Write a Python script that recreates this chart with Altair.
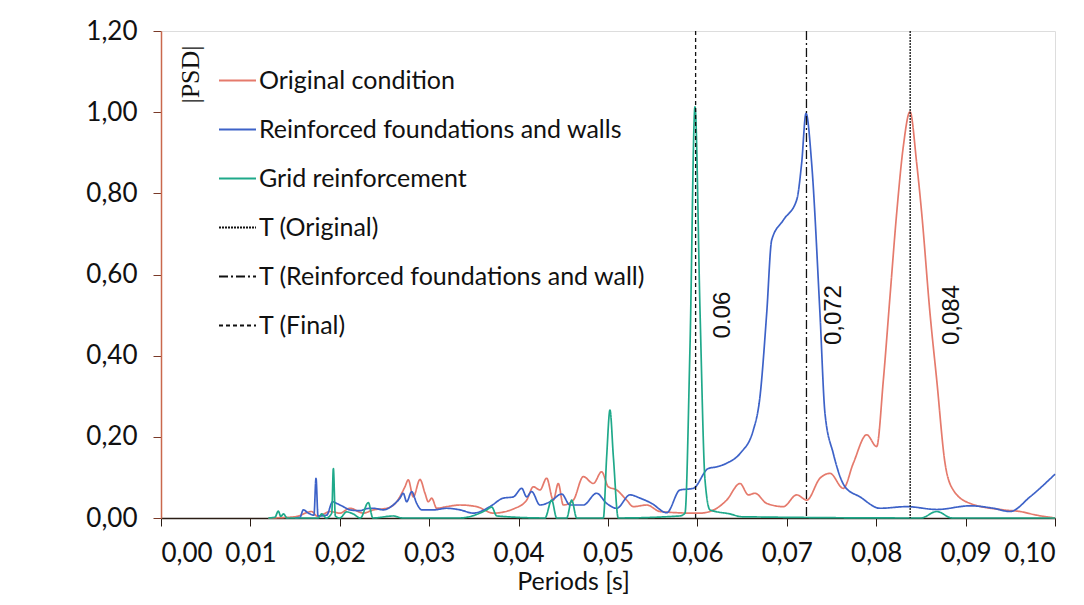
import altair as alt
import pandas as pd

# ---- data ----
orig_x = [0.0120, 0.0150, 0.01685, 0.0175, 0.0182, 0.0189, 0.0200, 0.02114, 0.02263, 0.02375,
          0.02524, 0.02636, 0.02729, 0.02766, 0.02822, 0.02897, 0.02953, 0.0299, 0.03028, 0.03084,
          0.03196, 0.03345, 0.03531, 0.03717, 0.0396, 0.0409, 0.04165, 0.04239, 0.04314, 0.04388,
          0.04444, 0.0450, 0.04612, 0.04724, 0.04836, 0.04929, 0.05003, 0.05097, 0.05209, 0.05283,
          0.05433, 0.05582, 0.05954, 0.0603, 0.06216, 0.06327, 0.06477, 0.06570, 0.06644, 0.06775,
          0.06961, 0.07111, 0.07223, 0.07371, 0.07483, 0.07632, 0.07744, 0.07894, 0.08005, 0.0808,
          0.08154, 0.08229, 0.08303, 0.08378, 0.08453, 0.08509, 0.08602, 0.08677, 0.0877, 0.08862,
          0.0905, 0.09422, 0.09609, 0.09795, 0.1000]
orig_y = [0.0, 0.003, 0.016, 0.004, 0.010, 0.016, 0.012, 0.024, 0.012, 0.020,
          0.024, 0.040, 0.077, 0.094, 0.052, 0.095, 0.061, 0.040, 0.049, 0.024,
          0.028, 0.032, 0.028, 0.012, 0.024, 0.044, 0.077, 0.069, 0.098, 0.044,
          0.085, 0.032, 0.044, 0.102, 0.085, 0.114, 0.077, 0.069, 0.044, 0.028,
          0.032, 0.016, 0.012, 0.012, 0.024, 0.044, 0.085, 0.057, 0.061, 0.036,
          0.028, 0.057, 0.044, 0.098, 0.110, 0.073, 0.135, 0.205, 0.176, 0.34,
          0.545, 0.751, 0.915, 1.001, 0.874, 0.751, 0.504, 0.34, 0.135, 0.069,
          0.036, 0.020, 0.016, 0.007, 0.0]

reinf_x = [0.0150, 0.01555, 0.01592, 0.01648, 0.01711, 0.01734, 0.01756, 0.01853, 0.0192, 0.01965,
           0.02039, 0.02114, 0.02226, 0.0230, 0.02375, 0.02487, 0.02598, 0.02673, 0.0271, 0.02748,
           0.02804, 0.0286, 0.02916, 0.03046, 0.03196, 0.03345, 0.03494, 0.0368, 0.03829, 0.03941,
           0.04035, 0.0409, 0.04146, 0.04239, 0.04351, 0.04482, 0.04575, 0.04724, 0.04873, 0.04985,
           0.05097, 0.05246, 0.05358, 0.05489, 0.05657, 0.05805, 0.05954, 0.06122, 0.06216, 0.06327,
           0.06477, 0.06626, 0.0670, 0.06775, 0.06831, 0.06961, 0.07111, 0.07166, 0.07215, 0.07278,
           0.07371, 0.07427, 0.0752, 0.07651, 0.07819, 0.08043, 0.08341, 0.08677, 0.0905, 0.0931,
           0.09497, 0.0972, 0.1000]
reinf_y = [0.0, 0.002, 0.020, 0.012, 0.007, 0.098, 0.005, 0.007, 0.040, 0.036,
           0.028, 0.020, 0.018, 0.023, 0.024, 0.020, 0.032, 0.049, 0.061, 0.040,
           0.065, 0.036, 0.020, 0.020, 0.024, 0.020, 0.012, 0.028, 0.049, 0.052,
           0.073, 0.052, 0.065, 0.032, 0.040, 0.059, 0.032, 0.032, 0.061, 0.036,
           0.024, 0.057, 0.049, 0.036, 0.013, 0.069, 0.073, 0.122, 0.126, 0.135,
           0.159, 0.217, 0.299, 0.504, 0.685, 0.734, 0.784, 0.874, 0.997, 0.874,
           0.504, 0.258, 0.159, 0.077, 0.052, 0.024, 0.028, 0.021, 0.030, 0.024,
           0.016, 0.052, 0.108]

grid_x = [0.0120, 0.01275, 0.01312, 0.0134, 0.0137, 0.0141, 0.0176, 0.01797, 0.0185, 0.0191,
          0.01928, 0.0195, 0.0200, 0.02077, 0.0215, 0.0223, 0.02319, 0.0237, 0.0260, 0.0270,
          0.0334, 0.03643, 0.0370, 0.03755, 0.04295, 0.0437, 0.04426, 0.04538, 0.04594, 0.0465,
          0.04948, 0.04985, 0.05022, 0.0506, 0.05115, 0.05805, 0.05861, 0.05917, 0.05973, 0.0603,
          0.06085, 0.06141, 0.06365, 0.0650, 0.0850, 0.08677, 0.0885, 0.1000]
grid_y = [0.0, 0.002, 0.017, 0.004, 0.010, 0.0, 0.0, 0.010, 0.0, 0.012,
          0.122, 0.005, 0.0, 0.015, 0.010, 0.0, 0.038, 0.0, 0.005, 0.0,
          0.0, 0.020, 0.027, 0.005, 0.0, 0.044, 0.0, 0.0, 0.044, 0.0,
          0.0, 0.151, 0.266, 0.151, 0.0, 0.005, 0.012, 0.42, 1.013, 0.504,
          0.094, 0.020, 0.010, 0.003, 0.0, 0.016, 0.0, 0.0]

series_names = ["Original condition", "Reinforced foundations and walls", "Grid reinforcement",
                "T (Original)", "T (Reinforced foundations and wall)", "T (Final)"]
series_colors = ["#E57A6C", "#3D62C8", "#1FA98A", "#111111", "#111111", "#111111"]
series_dashes = [[1, 0], [1, 0], [1, 0], [2, 1], [9, 3, 2, 3], [4, 3]]

period_names = ["T (Original)", "T (Reinforced foundations and wall)", "T (Final)"]
period_values = [0.0838, 0.0722, 0.0598]

note_labels = ["0.06", "0,072", "0,084"]
note_x = [0.0629, 0.0753, 0.0885]
note_y = [0.50, 0.50, 0.50]

# ---- tables ----
rows = []
for name, xs, ys in [(series_names[0], orig_x, orig_y),
                     (series_names[1], reinf_x, reinf_y),
                     (series_names[2], grid_x, grid_y)]:
    for xv, yv in zip(xs, ys):
        rows.append({"series": name, "x": xv, "y": yv})
lines_df = pd.DataFrame(rows)
periods_df = pd.DataFrame({"series": period_names, "x": period_values})
notes_df = pd.DataFrame({"label": note_labels, "x": note_x, "y": note_y})

FONT = "Lato"
xscale = alt.Scale(domain=[0, 0.1], nice=False)
yscale = alt.Scale(domain=[0, 1.2], nice=False)


def make_legend():
    return alt.Legend(title=None, orient="none", legendX=57, legendY=30,
                      symbolType="stroke", symbolSize=1369, symbolStrokeWidth=2,
                      labelFont=FONT, labelFontSize=25, labelColor="#111111",
                      labelOffset=2, rowPadding=16, labelLimit=700)


color = alt.Color("series:N", scale=alt.Scale(domain=series_names, range=series_colors),
                  legend=make_legend())
dash = alt.StrokeDash("series:N", scale=alt.Scale(domain=series_names, range=series_dashes),
                      legend=make_legend())

xaxis = alt.Axis(values=[i / 100 for i in range(11)],
                 labelExpr="replace(format(datum.value, '.2f'), '.', ',')",
                 labelFont=FONT, labelFontSize=26, labelColor="#111111", labelPadding=14,
                 tickSize=8, tickColor="#2b1d15", domainColor="#2b1d15", domainWidth=1.5,
                 grid=False, title="Periods [s]", titleFont=FONT, titleFontSize=25,
                 titleFontWeight="normal", titleColor="#111111",
                 titleX=412, titleY=63, titleAlign="center", titleBaseline="middle")
yaxis = alt.Axis(values=[i / 5 for i in range(7)],
                 labelExpr="replace(format(datum.value, '.2f'), '.', ',')",
                 labelFont=FONT, labelFontSize=26, labelColor="#111111", labelPadding=16,
                 tickSize=8, tickColor="#7a3a28", domainColor="#C9684C", domainWidth=1.5,
                 grid=False, title="|PSD|", titleFont="Liberation Serif", titleFontSize=26,
                 titleFontWeight="normal", titleColor="#111111", titleAngle=270,
                 titleX=29, titleY=43, titleAlign="center", titleBaseline="middle")

lines = alt.Chart(lines_df).mark_line(strokeWidth=1.7, interpolate="monotone").encode(
    x=alt.X("x:Q", scale=xscale, axis=xaxis),
    y=alt.Y("y:Q", scale=yscale, axis=yaxis),
    color=color,
    strokeDash=dash,
)

rules = alt.Chart(periods_df).mark_rule(strokeWidth=1.3).encode(
    x=alt.X("x:Q", scale=xscale),
    color=color,
    strokeDash=dash,
)

notes = alt.Chart(notes_df).mark_text(angle=270, font="Liberation Sans", fontSize=24,
                                      color="#111111", align="center", baseline="middle").encode(
    x=alt.X("x:Q", scale=xscale),
    y=alt.Y("y:Q", scale=yscale),
    text="label:N",
)

chart = alt.layer(lines, rules, notes).properties(
    width=894, height=487,
    autosize=alt.AutoSizeParams(type="none"),
    padding={"left": 153, "top": 23, "right": 21, "bottom": 79},
).configure_view(stroke="#A9BCCB", strokeWidth=1.5).configure(background="white")

chart.save("out.html", embed_options={"renderer": "svg", "actions": False})
